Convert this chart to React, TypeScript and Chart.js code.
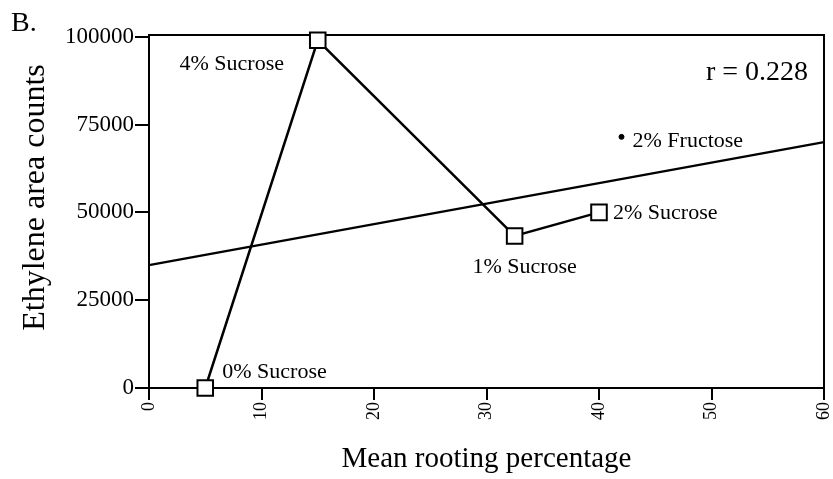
import { useEffect, useRef } from 'react';
import { Chart, registerables } from 'chart.js';

Chart.register(...registerables);

// ---- data ----
const sucroseLabels = ['0% Sucrose', '4% Sucrose', '1% Sucrose', '2% Sucrose'];
const sucroseX = [5, 15, 32.5, 40];
const sucroseY = [0, 99000, 43300, 50000];
const fructoseLabel = '2% Fructose';
const fructoseX = [42];
const fructoseY = [71500];
const fitX = [0, 60];
const fitY = [35000, 70000];
const xTicks = [0, 10, 20, 30, 40, 50, 60];
const yTicks = [0, 25000, 50000, 75000, 100000];
const rText = 'r = 0.228';
const panelLabel = 'B.';
const xTitle = 'Mean rooting percentage';
const yTitle = 'Ethylene area counts';

// ---- label placement (pixels, relative to the point) ----
const sucroseLabelPos = [
  { dx: 17, dy: -16, align: 'left' },
  { dx: -86, dy: 24, align: 'center' },
  { dx: 10, dy: 31, align: 'center' },
  { dx: 14, dy: 1, align: 'left' },
];
const fructoseLabelPos = { dx: 11, dy: 4, align: 'left' };

const FONT = '"Liberation Serif", "Times New Roman", serif';

const framePlugin = {
  id: 'frame',
  beforeDatasetsDraw(chart: any) {
    const { ctx, chartArea: a } = chart;
    ctx.save();
    ctx.strokeStyle = '#000';
    ctx.lineWidth = 2;
    ctx.beginPath();
    ctx.moveTo(a.left, a.top);
    ctx.lineTo(a.right, a.top);
    ctx.lineTo(a.right, a.bottom);
    ctx.stroke();
    ctx.restore();
  },
  afterDatasetsDraw(chart: any) {
    const { ctx, chartArea: a, scales } = chart;
    const x = scales.x;
    const y = scales.y;
    ctx.save();
    ctx.fillStyle = '#000';
    ctx.textBaseline = 'middle';
    ctx.font = `22px ${FONT}`;
    sucroseLabels.forEach((t, i) => {
      const p = sucroseLabelPos[i];
      ctx.textAlign = p.align;
      ctx.fillText(t, x.getPixelForValue(sucroseX[i]) + p.dx, y.getPixelForValue(sucroseY[i]) + p.dy);
    });
    ctx.textAlign = fructoseLabelPos.align;
    ctx.fillText(
      fructoseLabel,
      x.getPixelForValue(fructoseX[0]) + fructoseLabelPos.dx,
      y.getPixelForValue(fructoseY[0]) + fructoseLabelPos.dy
    );
    ctx.font = `28px ${FONT}`;
    ctx.textAlign = 'right';
    ctx.fillText(rText, a.right - 16, a.top + 38);
    ctx.textAlign = 'left';
    ctx.fillText(panelLabel, 11, 24);
    // y-axis title
    ctx.font = `32px ${FONT}`;
    ctx.textAlign = 'center';
    ctx.translate(36, (a.top + a.bottom) / 2 - 14);
    ctx.rotate(-Math.PI / 2);
    ctx.fillText(yTitle, 0, 0);
    ctx.restore();
  },
};

export default function App() {
  const ref = useRef<HTMLCanvasElement | null>(null);

  useEffect(() => {
    if (!ref.current) return;
    const chart = new Chart(ref.current, {
      type: 'scatter',
      data: {
        datasets: [
          {
            label: 'fit',
            data: fitX.map((v, i) => ({ x: v, y: fitY[i] })),
            showLine: true,
            borderColor: '#000',
            borderWidth: 2.2,
            pointRadius: 0,
            clip: false,
          } as any,
          {
            label: 'sucrose',
            data: sucroseX.map((v, i) => ({ x: v, y: sucroseY[i] })),
            showLine: true,
            borderColor: '#000',
            borderWidth: 2.5,
            pointStyle: 'rect',
            pointRadius: 11,
            pointBorderWidth: 2,
            pointBackgroundColor: '#fff',
            pointBorderColor: '#000',
            clip: false,
          } as any,
          {
            label: 'fructose',
            data: fructoseX.map((v, i) => ({ x: v, y: fructoseY[i] })),
            showLine: false,
            pointStyle: 'circle',
            pointRadius: 2.5,
            pointBackgroundColor: '#000',
            pointBorderColor: '#000',
            clip: false,
          } as any,
        ],
      },
      options: {
        animation: false,
        responsive: false,
        maintainAspectRatio: false,
        layout: { autoPadding: false, padding: { left: 0, top: 35, right: 9, bottom: 2 } },
        plugins: {
          legend: { display: false },
          tooltip: { enabled: false },
        },
        scales: {
          x: {
            type: 'linear',
            min: 0,
            max: 60,
            afterBuildTicks: (s: any) => {
              s.ticks = xTicks.map((v) => ({ value: v }));
            },
            afterFit: (s: any) => {
              s.height = 89;
              s.paddingLeft = 0;
              s.paddingRight = 0;
            },
            ticks: {
              color: '#000',
              font: { family: FONT, size: 18 },
              minRotation: 90,
              maxRotation: 90,
              padding: 2,
              autoSkip: false,
              callback: (v: any) => String(v),
            },
            grid: {
              drawOnChartArea: false,
              drawTicks: true,
              tickLength: 12,
              color: '#000',
              lineWidth: 2,
            },
            border: { display: true, color: '#000', width: 2 },
            title: {
              display: true,
              text: xTitle,
              color: '#000',
              font: { family: FONT, size: 29 },
              padding: { top: 0, bottom: 0 },
            },
          },
          y: {
            type: 'linear',
            min: 0,
            max: 100500,
            afterBuildTicks: (s: any) => {
              s.ticks = yTicks.map((v) => ({ value: v }));
            },
            afterFit: (s: any) => {
              s.width = 149;
              s.paddingTop = 0;
              s.paddingBottom = 0;
            },
            ticks: {
              color: '#000',
              font: { family: FONT, size: 23 },
              padding: 1,
              callback: (v: any) => String(v),
            },
            grid: {
              drawOnChartArea: false,
              drawTicks: true,
              tickLength: 14,
              color: '#000',
              lineWidth: 2,
            },
            border: { display: true, color: '#000', width: 2 },
          },
        },
      },
      plugins: [framePlugin],
    });
    return () => chart.destroy();
  }, []);

  return (
    <div style={{ position: 'absolute', left: 0, top: 0, width: 833, height: 479, background: '#fff' }}>
      <canvas ref={ref} width={833} height={479} style={{ width: 833, height: 479 }} />
    </div>
  );
}
